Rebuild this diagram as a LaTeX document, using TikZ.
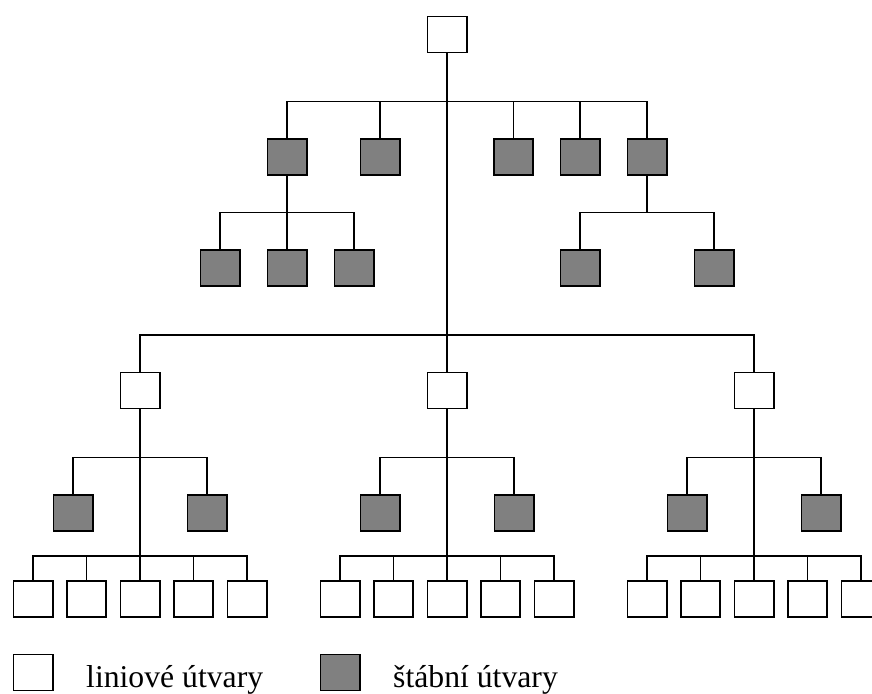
\documentclass[tikz,border=0pt]{standalone}
\usepackage{fontspec}
\setmainfont{Liberation Serif}
\usepackage{tikz}
\usetikzlibrary{positioning}

\begin{document}
\begin{tikzpicture}[x=1pt,y=-1pt,
  line node/.style={rectangle,draw,line width=1.6pt,fill=white,inner sep=0pt,
    minimum width=39.4pt,minimum height=35.9pt},
  staff node/.style={line node,fill=gray},
  link/.style={line width=1.3pt},
  hv/.style={to path={(\tikztostart) |- (\tikztotarget)}}]
  \clip (0,0) rectangle (872,693);

  \node[line node] (0) at (447,34.5) {};
  \node[staff node] (1) at (287,157) {};
  \node[staff node] (2) at (380,157) {};
  \node[staff node] (3) at (513.5,157) {};
  \node[staff node] (4) at (580,157) {};
  \node[staff node] (5) at (647,157) {};
  \node[staff node] (6) at (220,268) {};
  \node[staff node] (7) [right=26pt of 6] {};
  \node[staff node] (8) [right=26pt of 7] {};
  \node[staff node] (9) at (580,268) {};
  \node[staff node] (10) at (714,268) {};

  \coordinate (a) at (447,101.7);
  \coordinate (b) at (287,212.3);
  \coordinate (c) at (647,212.3);
  \coordinate (d) at (447,335);

  \draw[link] (0) -- (d);
  \path[link]
    (1) edge[hv] (a) (2) edge[hv] (a) (3) edge[hv] (a)
    (4) edge[hv] (a) (5) edge[hv] (a)
    (1) edge (b) (6) edge[hv] (b) (7) edge (b) (8) edge[hv] (b)
    (5) edge (c) (9) edge[hv] (c) (10) edge[hv] (c);

  % three line units with their staff and sub units
  \foreach \g/\x in {1/140,2/447,3/754}{
    \node[line node] (g\g) at (\x,390.5) {};
    \node[staff node] (g\g a) at (\x-67,513) {};
    \node[staff node] (g\g b) at (\x+67,513) {};
    \coordinate (g\g c) at (\x,457.7);
    \coordinate (g\g d) at (\x,556);
    \draw[link] (g\g) -- (g\g d);
    \path[link] (g\g) edge[hv] (d)
      (g\g a) edge[hv] (g\g c) (g\g b) edge[hv] (g\g c);
    \foreach \k in {1,...,5}{
      \node[line node] (g\g-\k) at (\x+53.5*\k-160.5,599) {};
      \path[link] (g\g-\k) edge[hv] (g\g d);
    }
  }

  % legend
  \node[line node] (k1) at (33,672.5) {};
  \node[staff node] (k2) at (340,672.5) {};
  \node[anchor=base west,inner sep=0pt,font=\fontsize{31.7}{38}\selectfont]
    (t1) at (86,687.7) {liniové útvary};
  \node[anchor=base west,inner sep=0pt,font=\fontsize{31.7}{38}\selectfont]
    (t2) at (393,687.7) {štábní útvary};
\end{tikzpicture}
\end{document}
